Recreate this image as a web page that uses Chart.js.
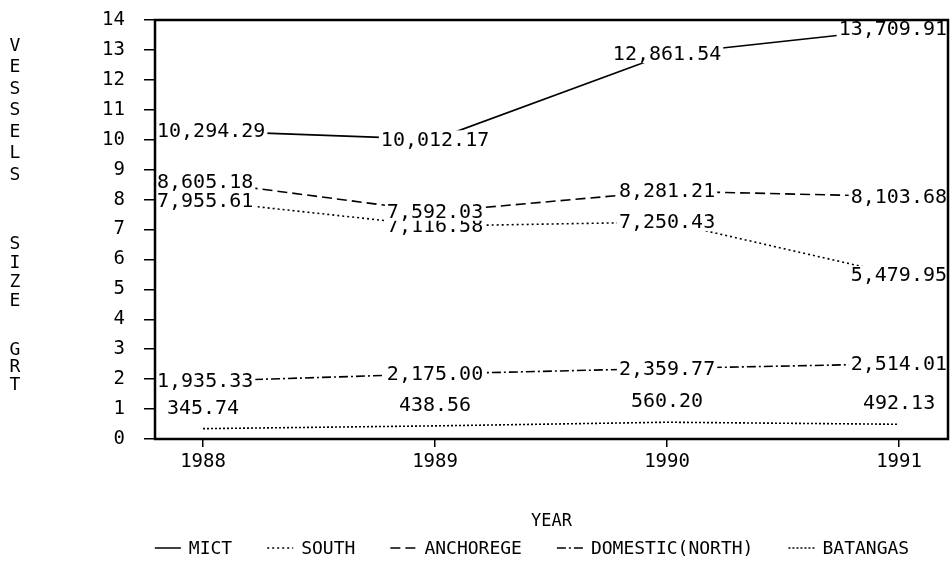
<!DOCTYPE html>
<html lang="en">
<head>
<meta charset="UTF-8">
<title>Vessels Size GRT</title>
<script src="https://cdn.jsdelivr.net/npm/chart.js"></script>
<style>
    html, body { margin: 0; padding: 0; background: #fff; }
</style>
</head>
<body>
<canvas id="grafico" width="952" height="563"></canvas>

<script>
    // dados
    const years = [1988, 1989, 1990, 1991];
    const seriesNames = ['MICT', 'SOUTH', 'ANCHOREGE', 'DOMESTIC(NORTH)', 'BATANGAS'];
    const mict = [10294.29, 10012.17, 12861.54, 13709.91];
    const south = [7955.61, 7116.58, 7250.43, 5479.95];
    const anchorege = [8605.18, 7592.03, 8281.21, 8103.68];
    const domestic = [1935.33, 2175.00, 2359.77, 2514.01];
    const batangas = [345.74, 438.56, 560.20, 492.13];
    const yTickLabels = [0, 1, 2, 3, 4, 5, 6, 7, 8, 9, 10, 11, 12, 13, 14];

    // estilos das linhas (separados dos dados)
    const estilos = [
        { dash: [], labelDy: 0 },
        { dash: [2, 3], labelDy: 0 },
        { dash: [10, 5], labelDy: 0 },
        { dash: [9, 3, 2, 3], labelDy: 0 },
        { dash: [2, 2], labelDy: -21 }
    ];

    const FONTE = '"DejaVu Sans Mono", "Liberation Mono", monospace';
    const valores = [mict, south, anchorege, domestic, batangas];

    const datasets = valores.map((serie, i) => ({
        label: seriesNames[i],
        data: serie.map((v, j) => ({ x: years[j], y: v })),
        borderColor: '#000',
        borderWidth: 1.6,
        borderDash: estilos[i].dash,
        pointRadius: 0,
        tension: 0,
        fill: false,
        labelDy: estilos[i].labelDy
    }));

    // rotulos com fundo branco em cada ponto
    const rotulos = {
        id: 'rotulos',
        afterDatasetsDraw(chart) {
            const ctx = chart.ctx;
            const area = chart.chartArea;
            ctx.save();
            ctx.font = '20px ' + FONTE;
            ctx.textBaseline = 'middle';
            ctx.textAlign = 'left';
            chart.data.datasets.forEach((ds, i) => {
                const meta = chart.getDatasetMeta(i);
                meta.data.forEach((pt, j) => {
                    const txt = ds.data[j].y.toLocaleString('en-US', { minimumFractionDigits: 2, maximumFractionDigits: 2 });
                    const w = ctx.measureText(txt).width;
                    let x = pt.x - w / 2;
                    x = Math.max(area.left + 2, Math.min(area.right - 1 - w, x));
                    const y = pt.y + ds.labelDy;
                    ctx.fillStyle = '#fff';
                    ctx.fillRect(x - 2, y - 9, w + 4, 18);
                    ctx.fillStyle = '#000';
                    ctx.fillText(txt, x, y + 1);
                });
            });
            ctx.restore();
        }
    };

    // moldura, titulo vertical e legenda
    const extras = {
        id: 'extras',
        afterDraw(chart) {
            const ctx = chart.ctx;
            const a = chart.chartArea;
            ctx.save();
            ctx.strokeStyle = '#000';
            ctx.lineWidth = 2.5;
            ctx.setLineDash([]);
            ctx.strokeRect(a.left, a.top, a.right - a.left, a.bottom - a.top);

            // titulo do eixo Y, letra por letra
            ctx.fillStyle = '#000';
            ctx.font = '18px ' + FONTE;
            ctx.textAlign = 'center';
            ctx.textBaseline = 'middle';
            const palavras = [['VESSELS', 46, 21.5], ['SIZE', 244, 19], ['GRT', 350, 17.5]];
            palavras.forEach(([p, y0, passo]) => {
                p.split('').forEach((c, k) => ctx.fillText(c, 15, y0 + k * passo));
            });

            // legenda
            ctx.font = '18px ' + FONTE;
            ctx.textAlign = 'left';
            const amostra = 26, gap = 8, entre = 35;
            let total = 0;
            seriesNames.forEach((n, i) => {
                total += amostra + gap + ctx.measureText(n).width + (i < seriesNames.length - 1 ? entre : 0);
            });
            let x = 532 - total / 2;
            const y = 548;
            ctx.lineWidth = 1.5;
            seriesNames.forEach((n, i) => {
                ctx.setLineDash(estilos[i].dash);
                ctx.beginPath();
                ctx.moveTo(x, y);
                ctx.lineTo(x + amostra, y);
                ctx.stroke();
                x += amostra + gap;
                ctx.fillText(n, x, y + 1);
                x += ctx.measureText(n).width + entre;
            });
            ctx.restore();
        }
    };

    new Chart(document.getElementById('grafico'), {
        type: 'line',
        data: { datasets: datasets },
        plugins: [rotulos, extras],
        options: {
            responsive: false,
            animation: false,
            layout: { padding: { top: 20, right: 4, left: 0, bottom: 0 } },
            plugins: {
                legend: { display: false },
                tooltip: { enabled: false }
            },
            scales: {
                x: {
                    type: 'linear',
                    min: 1987.793,
                    max: 1991.211,
                    afterBuildTicks: s => { s.ticks = years.map(v => ({ value: v })); },
                    afterFit: s => { s.height = 124; s.paddingLeft = 0; s.paddingRight = 0; },
                    grid: { drawOnChartArea: false, tickLength: 8, color: '#000', lineWidth: 1.5 },
                    border: { display: false },
                    ticks: {
                        color: '#000',
                        font: { family: FONTE, size: 19 },
                        padding: 4,
                        maxRotation: 0,
                        autoSkip: false,
                        callback: v => String(v)
                    },
                    title: {
                        display: true,
                        text: 'YEAR',
                        color: '#000',
                        font: { family: FONTE, size: 17 },
                        padding: { top: 0, bottom: 31 }
                    }
                },
                y: {
                    min: 0,
                    max: 14000,
                    afterBuildTicks: s => { s.ticks = yTickLabels.map(v => ({ value: v * 1000 })); },
                    afterFit: s => { s.width = 155; s.paddingTop = 0; s.paddingBottom = 0; },
                    grid: { drawOnChartArea: false, tickLength: 11, color: '#000', lineWidth: 1.5 },
                    border: { display: false },
                    ticks: {
                        color: '#000',
                        font: { family: FONTE, size: 19 },
                        padding: 19,
                        callback: v => String(v / 1000)
                    }
                }
            }
        }
    });
</script>
</body>
</html>
